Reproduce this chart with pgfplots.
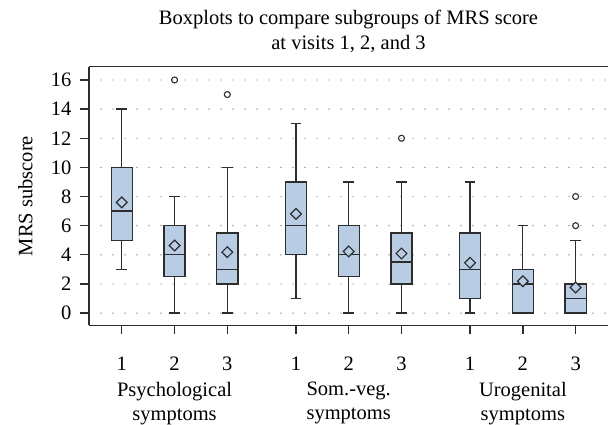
\documentclass[border=0pt]{standalone}
\usepackage{pgfplots}
\pgfplotsset{compat=1.18}
\usepgfplotslibrary{statistics}
\usepackage{fontspec}
\setmainfont{Liberation Serif}
\definecolor{boxfill}{RGB}{184,204,228}
\definecolor{ink}{RGB}{45,45,45}
\definecolor{gridc}{RGB}{120,120,120}
\newcommand{\lab}{\fontsize{20.5}{25}\selectfont}
\newcommand{\labc}{\fontsize{20.5}{24}\selectfont}
\pgfplotsset{
  bp/.style={draw=ink, fill=boxfill, line width=1.25pt, solid,
    mark=o, mark size=3pt, mark options={draw=ink, fill=white, line width=1.1pt}},
}
\begin{document}
\begin{tikzpicture}
\begin{axis}[
  scale only axis, width=519pt, height=258.6pt,
  xmin=0.379, xmax=10.213, ymin=-0.837, ymax=16.91,
  axis x line*=bottom, axis y line*=left,
  axis line style={-, draw=ink, line width=1.3pt},
  ytick={0,2,...,16},
  xtick={1,2,3,4.3,5.3,6.3,7.6,8.6,9.6},
  xticklabels={1,2,3,1,2,3,1,2,3},
  tick align=outside,
  major tick length=9pt,
  tick style={draw=ink, line width=1.3pt},
  ymajorgrids,
  major grid style={draw=gridc, line width=1.4pt, dash pattern=on 0pt off 12pt, line cap=round},
  tick label style={font=\lab, text=black},
  xticklabel style={anchor=base, inner sep=0pt, yshift=-36.4pt},
  yticklabel style={xshift=-5pt},
  /pgf/number format/assume math mode=true,
  extra x ticks={2,5.3,8.6},
  extra x tick labels={{Psychological\\symptoms},{Som.-veg.\\symptoms},{Urogenital\\symptoms}},
  extra x tick style={major tick length=0pt, xticklabel style={align=center, anchor=north, inner sep=0pt, yshift=-20.5pt, font=\labc}},
  ylabel={MRS subscore},
  ylabel style={at={(axis description cs:-0.1224,0.5)}, anchor=center, font=\lab},
  title={Boxplots to compare subgroups of MRS score\\at visits 1, 2, and 3},
  title style={at={(axis description cs:0.5,1)}, anchor=south, yshift=7.8pt, inner sep=0pt, align=center, font=\lab},
  boxplot/draw direction=y,
  after end axis/.code={\draw[ink, line width=1.3pt] (rel axis cs:0,1) -- (rel axis cs:1,1);},
]
% Psychological
\addplot[bp, boxplot prepared={draw position=1, lower whisker=3, lower quartile=5, median=7, upper quartile=10, upper whisker=14, box extend=0.4, whisker extend=0.2}] coordinates {};
\addplot[bp, boxplot prepared={draw position=2, lower whisker=0, lower quartile=2.5, median=4, upper quartile=6, upper whisker=8, box extend=0.4, whisker extend=0.2}] table[row sep=\\, y index=0] {data\\16\\};
\addplot[bp, boxplot prepared={draw position=3, lower whisker=0, lower quartile=2, median=3, upper quartile=5.5, upper whisker=10, box extend=0.4, whisker extend=0.2}] table[row sep=\\, y index=0] {data\\15\\};
% Som.-veg.
\addplot[bp, boxplot prepared={draw position=4.3, lower whisker=1, lower quartile=4, median=6, upper quartile=9, upper whisker=13, box extend=0.4, whisker extend=0.2}] coordinates {};
\addplot[bp, boxplot prepared={draw position=5.3, lower whisker=0, lower quartile=2.5, median=4, upper quartile=6, upper whisker=9, box extend=0.4, whisker extend=0.2}] coordinates {};
\addplot[bp, boxplot prepared={draw position=6.3, lower whisker=0, lower quartile=2, median=3.5, upper quartile=5.5, upper whisker=9, box extend=0.4, whisker extend=0.2}] table[row sep=\\, y index=0] {data\\12\\};
% Urogenital
\addplot[bp, boxplot prepared={draw position=7.6, lower whisker=0, lower quartile=1, median=3, upper quartile=5.5, upper whisker=9, box extend=0.4, whisker extend=0.2}] coordinates {};
\addplot[bp, boxplot prepared={draw position=8.6, lower whisker=0, lower quartile=0, median=2, upper quartile=3, upper whisker=6, box extend=0.4, whisker extend=0.2}] coordinates {};
\addplot[bp, boxplot prepared={draw position=9.6, lower whisker=0, lower quartile=0, median=1, upper quartile=2, upper whisker=5, box extend=0.4, whisker extend=0.2}] table[row sep=\\, y index=0] {data\\6\\8\\};
% means
\addplot[only marks, mark=square*, mark size=3.8pt, mark options={rotate=45, draw=ink, fill=boxfill, line width=1.2pt}] coordinates {(1,7.6) (2,4.64) (3,4.18) (4.3,6.81) (5.3,4.23) (6.3,4.09) (7.6,3.45) (8.6,2.19) (9.6,1.76)};
\end{axis}
\pgfresetboundingbox
\path[use as bounding box] (-89pt,-99.7pt) rectangle (519pt,325.3pt);
\end{tikzpicture}
\end{document}
